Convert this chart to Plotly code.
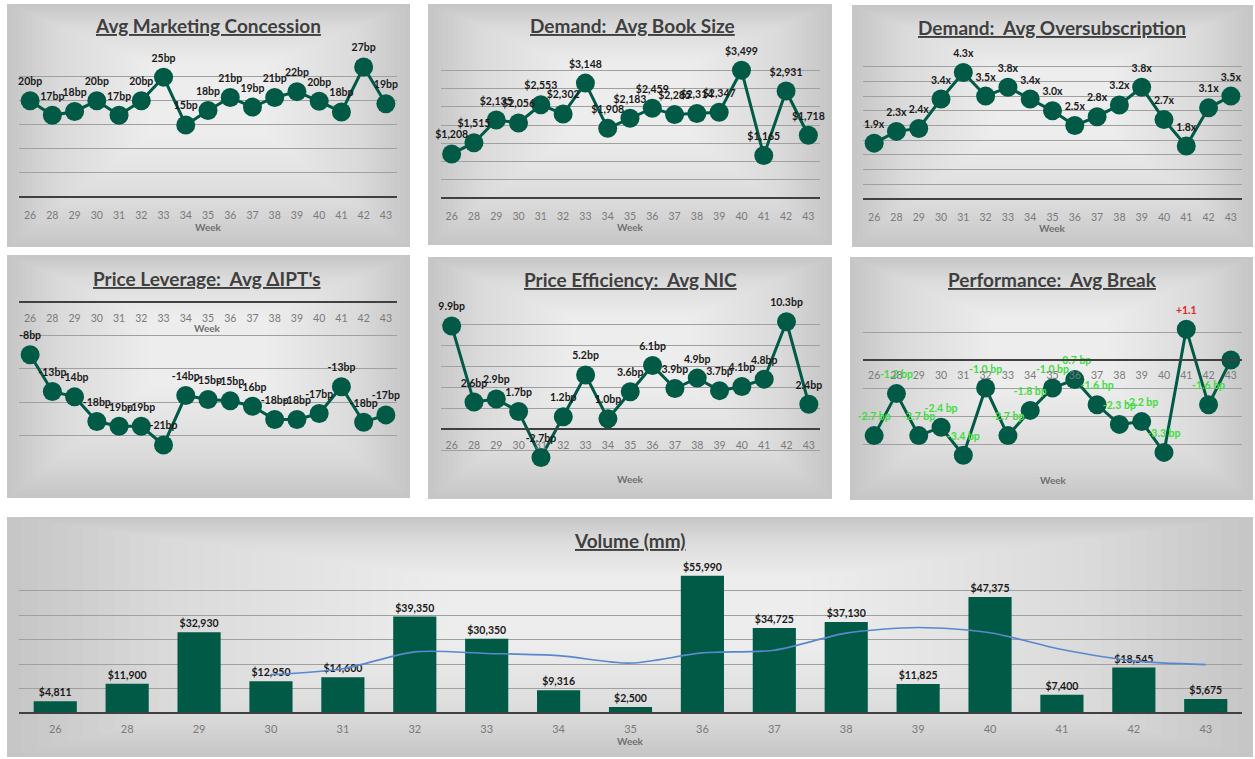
import plotly.graph_objects as go

# ---------------- data ----------------
weeks = ['26', '28', '29', '30', '31', '32', '33', '34', '35', '36', '37', '38', '39', '40', '41', '42', '43']

concession_bp = [19.9, 16.9, 17.7, 19.9, 16.9, 19.9, 24.8, 14.9, 17.9, 20.6, 18.6, 20.6, 21.8, 19.8, 17.6, 26.9, 19.3]
book_size = [1208, 1515, 2135, 2056, 2553, 2302, 3148, 1908, 2183, 2459, 2285, 2314, 2347, 3499, 1165, 2931, 1718]
oversub_x = [1.9, 2.3, 2.4, 3.4, 4.3, 3.5, 3.8, 3.4, 3.0, 2.5, 2.8, 3.2, 3.8, 2.7, 1.8, 3.1, 3.5]
ipt_bp = [-7.9, -13.4, -14.2, -17.9, -18.6, -18.6, -21.4, -14.0, -14.6, -14.8, -15.6, -17.6, -17.6, -16.7, -12.7, -18.0, -16.9]
nic_bp = [9.9, 2.6, 2.9, 1.7, -2.7, 1.2, 5.2, 1.0, 3.6, 6.1, 3.9, 4.9, 3.7, 4.1, 4.8, 10.3, 2.4]
break_bp = [-2.7, -1.2, -2.7, -2.4, -3.4, -1.0, -2.7, -1.8, -1.0, -0.7, -1.6, -2.3, -2.2, -3.3, 1.1, -1.6, 0.0]
volume_mm = [4811, 11900, 32930, 12950, 14600, 39350, 30350, 9316, 2500, 55990, 34725, 37130, 11825, 47375, 7400, 18545, 5675]
trend_weeks = ['30', '31', '32', '33', '34', '35', '36', '37', '38', '39', '40', '41', '42', '43']
volume_trend = [15648, 18095, 24958, 24313, 23404, 20379, 24539, 25633, 32586, 34918, 32764, 25933, 21286, 19749]

titles = ["Avg Marketing Concession", "Demand:\u00a0 Avg Book Size", "Demand:\u00a0 Avg Oversubscription",
          "Price Leverage:\u00a0 Avg \u0394IPT's", "Price Efficiency:\u00a0 Avg NIC", "Performance:\u00a0 Avg Break",
          "Volume (mm)"]

# ---------------- styling ----------------
W, H = 1255, 759
GREEN = "#005A46"
FONT = "Lato, 'Liberation Sans', sans-serif"
LABEL_C = "#1a1a1a"
GRID_C = "#a0a0a0"
AXIS_C = "#404040"
TICK_C = "#7a7a7a"


def fx(x):
    return x / W


def fy(y):
    return 1 - y / H


panels = [
    dict(box=(7, 4, 410, 247), plot=(19, 52, 397, 197), rng=(0, 30), dtick=5, tl=8,
         title_xy=(208, 26), week_xy=(208, 227)),
    dict(box=(428, 4, 832, 245), plot=(440.5, 52, 819.5, 198), rng=(0, 4000), dtick=500, tl=8,
         title_xy=(632, 26), week_xy=(630, 227)),
    dict(box=(852, 5, 1253, 247), plot=(863, 52, 1242, 199), rng=(0, 5), dtick=0.5, tl=8,
         title_xy=(1052, 27), week_xy=(1052, 228)),
    dict(box=(7, 255, 410, 498), plot=(19, 302, 397, 469), rng=(-25, 0), dtick=5, tl=6,
         title_xy=(207, 278), week_xy=(207, 328)),
    dict(box=(428, 257, 832, 499), plot=(440.5, 304, 820, 471), rng=(-4, 12), dtick=2, tl=6,
         title_xy=(630, 279), week_xy=(630, 479)),
    dict(box=(850, 257, 1253, 500), plot=(863, 304, 1242, 472), rng=(-4, 2), dtick=1, tl=5,
         title_xy=(1052, 280), week_xy=(1053, 480)),
    dict(box=(7, 517, 1253, 757), plot=(19.3, 566, 1241.7, 713), rng=(0, 60000), dtick=10000, tl=6,
         title_xy=(630, 540), week_xy=(630, 741)),
]

fig = go.Figure()
shapes = []
annotations = []
layout_axes = {}

# soft radial-like gradient backgrounds (stacked translucent rectangles)
for p in panels:
    x0, y0, x1, y1 = p['box']
    shapes.append(dict(type='rect', xref='paper', yref='paper', x0=fx(x0), x1=fx(x1), y0=fy(y1), y1=fy(y0),
                       fillcolor='#c6c6c6', line=dict(width=0), layer='below'))
    cx = (x0 + x1) / 2
    cy = y0 + (y1 - y0) * 0.35
    N = 40
    for k in range(1, N + 1):
        t = k / (N + 1)
        a0 = x0 + (cx - x0) * t
        a1 = x1 - (x1 - cx) * t
        b0 = y0 + (cy - y0) * t
        b1 = y1 - (y1 - cy) * t
        shapes.append(dict(type='rect', xref='paper', yref='paper', x0=fx(a0), x1=fx(a1), y0=fy(b1), y1=fy(b0),
                           fillcolor='white', opacity=0.05, line=dict(width=0), layer='below'))

for i, p in enumerate(panels, start=1):
    px0, py0, px1, py1 = p['plot']
    rmin, rmax = p['rng']
    zero_py = py0 + (rmax - 0) / (rmax - rmin) * (py1 - py0)
    xname = 'xaxis' if i == 1 else f'xaxis{i}'
    yname = 'yaxis' if i == 1 else f'yaxis{i}'
    layout_axes[xname] = dict(domain=[fx(px0), fx(px1)], anchor='free', position=fy(zero_py),
                              type='category', range=[-0.5, 16.5],
                              showgrid=False, showline=True, linecolor=AXIS_C, linewidth=2,
                              ticks='outside', ticklen=p['tl'], tickcolor='rgba(0,0,0,0)',
                              tickfont=dict(family=FONT, size=11 if i == 7 else 10.5, color=TICK_C),
                              fixedrange=True, side='bottom')
    layout_axes[yname] = dict(domain=[fy(py1), fy(py0)], anchor=f'x{i}' if i > 1 else 'x',
                              range=[rmin, rmax], dtick=p['dtick'], tick0=0,
                              showticklabels=False, showgrid=True, gridcolor=GRID_C, gridwidth=1.3,
                              zeroline=False, showline=False, fixedrange=True)
    tx, ty = p['title_xy']
    annotations.append(dict(xref='paper', yref='paper', x=fx(tx), y=fy(ty), xanchor='center', yanchor='middle',
                            text=f"<b><u>{titles[i-1]}</u></b>", showarrow=False,
                            font=dict(family=FONT, size=19, color='#3f3f3f')))
    wx, wy = p['week_xy']
    annotations.append(dict(xref='paper', yref='paper', x=fx(wx), y=fy(wy), xanchor='center', yanchor='middle',
                            text="<b>Week</b>", showarrow=False,
                            font=dict(family=FONT, size=10, color='#707070')))

line_series = [
    (concession_bp, [f"{v:.0f}bp" for v in concession_bp], LABEL_C),
    (book_size, [f"${v:,}" for v in book_size], LABEL_C),
    (oversub_x, [f"{v:.1f}x" for v in oversub_x], LABEL_C),
    (ipt_bp, [f"{v:.0f}bp" for v in ipt_bp], LABEL_C),
    (nic_bp, [f"{v:.1f}bp" for v in nic_bp], LABEL_C),
    (break_bp, [("" if v == 0 else (f"+{v:.1f}" if v > 0 else f"{v:.1f} bp")) for v in break_bp],
     [("#e02424" if v > 0 else "#3fdc3f") for v in break_bp]),
]

for i, (vals, labels, tcol) in enumerate(line_series, start=1):
    xa = 'x' if i == 1 else f'x{i}'
    ya = 'y' if i == 1 else f'y{i}'
    fig.add_trace(go.Scatter(x=weeks, y=vals, mode='lines+markers+text', text=labels,
                             textposition='top center',
                             textfont=dict(family=FONT, size=10.5, color=tcol, weight='bold'),
                             marker=dict(size=19, color=GREEN),
                             line=dict(color=GREEN, width=3),
                             cliponaxis=False, hoverinfo='skip', xaxis=xa, yaxis=ya))

fig.add_trace(go.Bar(x=weeks, y=volume_mm, marker=dict(color=GREEN, line=dict(width=0)),
                     text=[f"${v:,}" for v in volume_mm], textposition='outside',
                     textfont=dict(family=FONT, size=10.5, color=LABEL_C, weight='bold'),
                     constraintext='none', cliponaxis=False, hoverinfo='skip', xaxis='x7', yaxis='y7'))
fig.add_trace(go.Scatter(x=trend_weeks, y=volume_trend, mode='lines',
                         line=dict(color='#5a88cc', width=1.6, shape='spline', smoothing=0.8),
                         hoverinfo='skip', xaxis='x7', yaxis='y7'))

fig.update_layout(width=W, height=H, margin=dict(l=0, r=0, t=0, b=0), autosize=False,
                  paper_bgcolor='white', plot_bgcolor='rgba(0,0,0,0)', showlegend=False,
                  bargap=0.4, shapes=shapes, annotations=annotations, **layout_axes)

fig.write_html("out.html")
